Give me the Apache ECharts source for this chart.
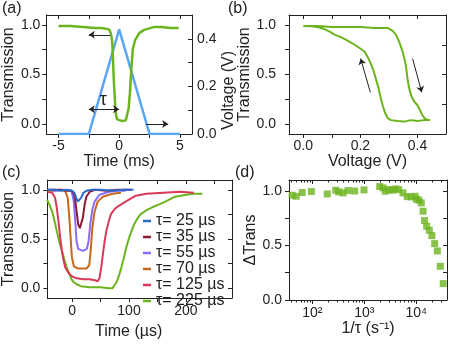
<!DOCTYPE html>
<html>
<head>
<meta charset="utf-8">
<script src="https://cdn.jsdelivr.net/npm/echarts@6/dist/echarts.min.js"></script>
<style>
  html, body { margin: 0; padding: 0; background: #fff; }
  #chart { width: 469px; height: 350px; }
</style>
</head>
<body>
<div id="chart"></div>
<script>
// ---- (a) transmission and drive voltage vs time (ms) ----
const aTime  = [-5, -4, -3, -2, -1.5, -1, -0.8, -0.7, -0.62, -0.56, -0.5, -0.45, -0.38, -0.31, -0.24, -0.18, 0, 0.3, 0.55, 0.66, 0.78, 0.89, 1.0, 1.13, 1.32, 1.67, 2.07, 2.9, 3.5, 4.2, 4.9];
const aTrans = [0.99, 0.99, 0.98, 0.97, 0.97, 0.96, 0.95, 0.92, 0.87, 0.8, 0.63, 0.46, 0.3, 0.15, 0.08, 0.05, 0.04, 0.03, 0.04, 0.06, 0.16, 0.32, 0.56, 0.76, 0.85, 0.92, 0.95, 0.98, 0.98, 0.97, 0.97];
const aVoltTime = [-5, -2.5, 0, 2.5, 5];
const aVolt     = [0, 0, 0.44, 0, 0];
// arrows [from, to]
const aArrowTrans = [[-0.75, 0.9], [-2.5, 0.9]];
const aArrowTau   = [[-2.5, 0.15], [0, 0.15]];
const aArrowVolt  = [[2.22, 0.0], [4.04, 0.0]];
const aTauLabel   = [-1.3, 0.245];

// ---- (b) transmission vs voltage (up sweep then down sweep) ----
const bVolt  = [0, 0.05, 0.1, 0.15, 0.2, 0.25, 0.28, 0.296, 0.313, 0.325, 0.336, 0.348, 0.354, 0.36, 0.365, 0.371, 0.379, 0.388, 0.4, 0.409, 0.417, 0.425, 0.435, 0.444,
                0.423, 0.4, 0.377, 0.354, 0.331, 0.307, 0.296, 0.287, 0.279, 0.27, 0.264, 0.255, 0.247, 0.238, 0.227, 0.215, 0.201, 0.18, 0.157, 0.134, 0.111, 0.094, 0.076, 0.053, 0.03, 0];
const bTrans = [0.99, 0.99, 0.98, 0.98, 0.98, 0.97, 0.97, 0.97, 0.94, 0.9, 0.83, 0.73, 0.66, 0.58, 0.46, 0.36, 0.28, 0.23, 0.19, 0.14, 0.09, 0.06, 0.04, 0.04,
                0.04, 0.03, 0.04, 0.025, 0.03, 0.04, 0.06, 0.11, 0.18, 0.28, 0.36, 0.45, 0.53, 0.6, 0.67, 0.73, 0.76, 0.8, 0.84, 0.875, 0.9, 0.93, 0.955, 0.976, 0.986, 0.99];
const bArrowUp   = [[0.235, 0.32], [0.201, 0.66]];
const bArrowDown = [[0.383, 0.66], [0.415, 0.32]];

// ---- (c) transmission vs time (µs) for several tau ----
const cNames = ['τ= 25 µs', 'τ= 35 µs', 'τ= 55 µs', 'τ= 70 µs', 'τ= 125 µs', 'τ= 225 µs'];
const c25t = [-43, -30, -20, -10, 0, 4, 7, 10, 13, 16, 20, 25, 35, 50, 70, 90, 108];
const c25v = [1.0, 1.0, 0.99, 1.0, 0.99, 0.97, 0.92, 0.88, 0.88, 0.92, 0.97, 0.99, 1.0, 1.0, 0.99, 1.0, 1.0];
const c35t = [-43, -30, -20, -10, -2, 2, 5, 7.8, 10.7, 13.6, 16.5, 19, 22, 25, 31, 40, 60, 80, 104];
const c35v = [1.0, 1.0, 1.0, 0.99, 0.99, 0.97, 0.92, 0.78, 0.65, 0.61, 0.62, 0.72, 0.85, 0.93, 0.98, 1.0, 0.99, 1.0, 1.0];
const c55t = [-43, -30, -15, -1, 3, 5.5, 7.8, 10.7, 19, 26, 29, 32, 35.5, 39.5, 48, 65.6, 80, 94];
const c55v = [1.0, 0.99, 1.0, 0.99, 0.88, 0.68, 0.48, 0.4, 0.38, 0.4, 0.48, 0.65, 0.8, 0.88, 0.95, 0.98, 0.99, 0.99];
const c70t = [-43, -32.6, -20, -12.4, -7.8, -4.9, -2.6, -0.3, 3.2, 10.7, 25, 30, 32.6, 35.5, 39.5, 45, 54, 71, 86];
const c70v = [0.99, 0.99, 1.0, 0.99, 0.92, 0.72, 0.51, 0.31, 0.22, 0.2, 0.2, 0.23, 0.38, 0.61, 0.78, 0.88, 0.93, 0.96, 0.97];
const c125t = [-43, -35, -30, -27, -24, -21, -18, -15, -12, -8, -4, 0, 8, 20, 31, 40, 45, 48, 51, 54, 57, 60, 64, 68, 74, 80, 94, 112, 130, 160, 190, 214];
const c125v = [0.98, 0.97, 0.92, 0.82, 0.68, 0.52, 0.38, 0.28, 0.21, 0.17, 0.14, 0.12, 0.1, 0.09, 0.09, 0.08, 0.07, 0.1, 0.2, 0.34, 0.47, 0.58, 0.67, 0.75, 0.8, 0.83, 0.88, 0.94, 0.96, 0.97, 0.98, 0.97];
const c225t = [-44, -40, -35, -30, -27, -22, -18, -14, -9.5, -5, -1, 3, 8, 15, 31, 50, 65, 71, 74, 77, 80, 83, 87, 91, 95, 100, 105, 109, 115, 120, 130, 140, 152, 164, 181, 200, 215, 229];
const c225v = [0.9, 0.85, 0.78, 0.66, 0.58, 0.46, 0.38, 0.3, 0.21, 0.15, 0.09, 0.06, 0.04, 0.02, 0.01, 0.01, 0.0, 0.0, 0.02, 0.05, 0.09, 0.14, 0.22, 0.31, 0.41, 0.51, 0.59, 0.65, 0.71, 0.75, 0.79, 0.82, 0.85, 0.88, 0.93, 0.95, 0.96, 0.96];

// ---- (d) delta transmission vs 1/tau (s^-1) ----
const dRate  = [41, 49, 64, 96, 194, 282, 322, 390, 486, 653, 986, 1977, 2290, 2535, 2985, 3460, 3950, 4580, 5540, 6710, 7950, 9500, 10050, 11200, 12480, 13500, 14450, 15830, 17800, 20000, 22600, 25400, 29000, 33000];
const dTrans = [0.96, 0.951, 0.985, 0.994, 0.972, 1.006, 0.991, 0.982, 1.003, 0.999, 1.009, 1.04, 1.028, 0.997, 1.012, 1.006, 1.018, 1.012, 0.982, 0.948, 0.945, 0.951, 0.924, 0.915, 0.89, 0.814, 0.728, 0.676, 0.639, 0.59, 0.517, 0.45, 0.309, 0.15];

const INK = '#222';
const FONT = 'Liberation Sans, Arial, Helvetica, sans-serif';
const GREEN = '#6cb41e';
const cColors = ['#2a6ccc', '#8c1c33', '#8a6cff', '#c8681a', '#d83a5a', GREEN];

const zip = (xs, ys) => xs.map((x, i) => [x, ys[i]]);
const fmt1 = v => v.toFixed(1);
const sup = { 2: '\u00b2', 3: '\u00b3', 4: '\u2074' };

const dMin = 35.6, dMax = 39000;
const dMinor = [];
[10, 100, 1000, 10000].forEach(dec => {
  for (let k = 2; k <= 9; k++) {
    const v = k * dec;
    if (v > dMin && v < dMax) dMinor.push(Math.log10(v));
  }
});

function axis(o) {
  return {
    type: o.type || 'value',
    gridIndex: o.grid,
    position: o.pos,
    min: o.min,
    max: o.max,
    show: o.show !== false,
    name: o.name || '',
    nameLocation: 'middle',
    nameGap: o.nameGap,
    nameRotate: o.nameRotate,
    nameTextStyle: Object.assign({ fontSize: 16, color: INK, fontFamily: FONT }, o.nameStyle || {}),
    axisLine: { show: o.line !== false, onZero: false, lineStyle: { color: INK, width: 1 } },
    axisTick: Object.assign({ show: true, inside: !!o.inside, length: o.tickLen || 4, lineStyle: { color: INK, width: 1 } },
      o.ticks ? { customValues: o.ticks } : {}),
    axisLabel: o.labels
      ? Object.assign({ show: true, formatter: o.fmt, margin: o.margin, fontSize: 14, color: INK, fontFamily: FONT },
          o.labels === 'auto' ? { showMinLabel: false, showMaxLabel: false } : { customValues: o.labels })
      : { show: false },
    splitLine: { show: false }
  };
}

const tr5 = [0, 0.25, 0.5, 0.75, 1.0];
const tr3 = [0, 0.5, 1.0];

const arrowLine = (pairs, both) => pairs.map(p => [
  { coord: p[0], symbol: both && both.includes(p) ? 'arrow' : 'none' },
  { coord: p[1], symbol: 'arrow' }
]);

const chart = echarts.init(document.getElementById('chart'));

chart.setOption({
  animation: false,
  backgroundColor: '#fff',
  textStyle: { fontFamily: FONT },
  grid: [
    { left: 45, top: 15, width: 147, height: 119 },
    { left: 289, top: 15, width: 157, height: 119 },
    { left: 44, top: 180, width: 188, height: 118 },
    { left: 289, top: 180, width: 158, height: 120 },
    { left: 289, top: 180, width: 158, height: 120 }
  ],
  xAxis: [
    axis({ grid: 0, pos: 'bottom', min: -6, max: 6, ticks: [-5, -2.5, 0, 2.5, 5], labels: [-5, 0, 5], margin: 5,
           name: 'Time (ms)', nameGap: 16 }),
    axis({ grid: 0, pos: 'top', min: -6, max: 6, ticks: [-5, -2.5, 0, 2.5, 5], inside: true }),
    axis({ grid: 1, pos: 'bottom', min: -0.05, max: 0.5, ticks: [0, 0.1, 0.2, 0.3, 0.4], labels: [0, 0.2, 0.4], fmt: fmt1, margin: 5,
           name: 'Voltage (V)', nameGap: 16 }),
    axis({ grid: 1, pos: 'top', min: -0.05, max: 0.5, ticks: [0, 0.1, 0.2, 0.3, 0.4], inside: true }),
    axis({ grid: 2, pos: 'bottom', min: -43.5, max: 281, ticks: [0, 50, 100, 150, 200, 250], labels: [0, 100, 200], margin: 6,
           name: 'Time (µs)', nameGap: 26, nameStyle: { padding: [0, 22, 0, 0] } }),
    axis({ grid: 2, pos: 'top', min: -43.5, max: 281, ticks: [0, 50, 100, 150, 200, 250], inside: true }),
    axis({ grid: 3, pos: 'bottom', type: 'log', min: dMin, max: dMax, labels: 'auto', margin: 6,
           fmt: v => '10' + (sup[Math.round(Math.log10(v))] || ''),
           name: '1/τ (s\u207b\u00b9)', nameGap: 15 }),
    axis({ grid: 3, pos: 'top', type: 'log', min: dMin, max: dMax, inside: true }),
    axis({ grid: 4, pos: 'bottom', min: Math.log10(dMin), max: Math.log10(dMax), ticks: dMinor, tickLen: 2.5, line: false }),
    axis({ grid: 4, pos: 'top', min: Math.log10(dMin), max: Math.log10(dMax), ticks: dMinor, tickLen: 2.5, inside: true, line: false })
  ],
  yAxis: [
    axis({ grid: 0, pos: 'left', min: -0.1, max: 1.1, ticks: tr5, labels: tr3, fmt: fmt1, margin: 6,
           name: 'Transmission', nameGap: 27, nameRotate: 90 }),
    axis({ grid: 0, pos: 'right', min: 0, max: 0.5, ticks: [0.1, 0.2, 0.3, 0.4], labels: [0, 0.2, 0.4], fmt: fmt1, margin: 5, inside: true,
           name: 'Voltage (V)', nameGap: 28, nameRotate: 90, nameStyle: { padding: [0, 32, 0, 0] } }),
    axis({ grid: 1, pos: 'left', min: -0.1, max: 1.1, ticks: tr5, labels: tr3, fmt: fmt1, margin: 13,
           name: 'Transmission', nameGap: 30, nameRotate: 90 }),
    axis({ grid: 1, pos: 'right', min: -0.1, max: 1.1, ticks: [0.2, 0.5, 0.8], inside: true }),
    axis({ grid: 2, pos: 'left', min: -0.1, max: 1.1, ticks: tr5, labels: tr3, fmt: fmt1, margin: 7,
           name: 'Transmission', nameGap: 26, nameRotate: 90 }),
    axis({ grid: 2, pos: 'right', min: -0.1, max: 1.1, ticks: tr5, inside: true }),
    axis({ grid: 3, pos: 'left', min: 0, max: 1.1, ticks: tr5, labels: tr3, fmt: fmt1, margin: 7,
           name: '\u0394Trans', nameGap: 26, nameRotate: 90 }),
    axis({ grid: 3, pos: 'right', min: 0, max: 1.1, ticks: tr5, inside: true }),
    axis({ grid: 4, pos: 'left', min: 0, max: 1.1, show: false })
  ],
  legend: {
    data: cNames,
    orient: 'vertical',
    left: 143,
    top: 213,
    padding: 0,
    itemGap: 0,
    itemWidth: 8,
    itemHeight: 2.5,
    icon: 'rect',
    selectedMode: false,
    textStyle: { fontSize: 16, color: INK, fontFamily: FONT, lineHeight: 13.7 }
  },
  graphic: [
    { type: 'text', left: 2, top: 1, style: { text: '(a)', fontSize: 16, fill: INK, fontFamily: FONT } },
    { type: 'text', left: 228, top: 1, style: { text: '(b)', fontSize: 16, fill: INK, fontFamily: FONT } },
    { type: 'text', left: 2, top: 165, style: { text: '(c)', fontSize: 16, fill: INK, fontFamily: FONT } },
    { type: 'text', left: 235, top: 165, style: { text: '(d)', fontSize: 16, fill: INK, fontFamily: FONT } }
  ],
  series: [
    {
      type: 'line', xAxisIndex: 0, yAxisIndex: 1, data: zip(aVoltTime, aVolt),
      showSymbol: false, lineStyle: { color: '#5aa5f5', width: 2.5 }, itemStyle: { color: '#5aa5f5' }, z: 2
    },
    {
      type: 'line', xAxisIndex: 0, yAxisIndex: 0, data: zip(aTime, aTrans),
      showSymbol: false, lineStyle: { color: GREEN, width: 2.5 }, itemStyle: { color: GREEN }, z: 3,
      markLine: {
        silent: true, symbolSize: 6, lineStyle: { color: INK, width: 1, type: 'solid' }, label: { show: false },
        data: arrowLine([aArrowTrans, aArrowTau, aArrowVolt], [aArrowTau])
      },
      markPoint: {
        silent: true, symbol: 'circle', symbolSize: 1, itemStyle: { color: 'transparent' },
        label: { show: true, position: 'inside', formatter: 'τ', fontSize: 18, color: INK, fontFamily: FONT },
        data: [{ coord: aTauLabel }]
      }
    },
    {
      type: 'line', xAxisIndex: 2, yAxisIndex: 2, data: zip(bVolt, bTrans),
      showSymbol: false, lineStyle: { color: GREEN, width: 2 }, itemStyle: { color: GREEN },
      markLine: {
        silent: true, symbolSize: 6, lineStyle: { color: INK, width: 1, type: 'solid' }, label: { show: false },
        data: arrowLine([bArrowUp, bArrowDown])
      }
    },
    { name: cNames[5], type: 'line', xAxisIndex: 4, yAxisIndex: 4, data: zip(c225t, c225v), showSymbol: false,
      lineStyle: { color: cColors[5], width: 2 }, itemStyle: { color: cColors[5] } },
    { name: cNames[4], type: 'line', xAxisIndex: 4, yAxisIndex: 4, data: zip(c125t, c125v), showSymbol: false,
      lineStyle: { color: cColors[4], width: 2 }, itemStyle: { color: cColors[4] } },
    { name: cNames[3], type: 'line', xAxisIndex: 4, yAxisIndex: 4, data: zip(c70t, c70v), showSymbol: false,
      lineStyle: { color: cColors[3], width: 2 }, itemStyle: { color: cColors[3] } },
    { name: cNames[2], type: 'line', xAxisIndex: 4, yAxisIndex: 4, data: zip(c55t, c55v), showSymbol: false,
      lineStyle: { color: cColors[2], width: 2 }, itemStyle: { color: cColors[2] } },
    { name: cNames[1], type: 'line', xAxisIndex: 4, yAxisIndex: 4, data: zip(c35t, c35v), showSymbol: false,
      lineStyle: { color: cColors[1], width: 2 }, itemStyle: { color: cColors[1] } },
    { name: cNames[0], type: 'line', xAxisIndex: 4, yAxisIndex: 4, data: zip(c25t, c25v), showSymbol: false,
      lineStyle: { color: cColors[0], width: 2 }, itemStyle: { color: cColors[0] } },
    {
      type: 'scatter', xAxisIndex: 6, yAxisIndex: 6, data: zip(dRate, dTrans),
      symbol: 'rect', symbolSize: 7, itemStyle: { color: GREEN }
    }
  ]
});
</script>
</body>
</html>
